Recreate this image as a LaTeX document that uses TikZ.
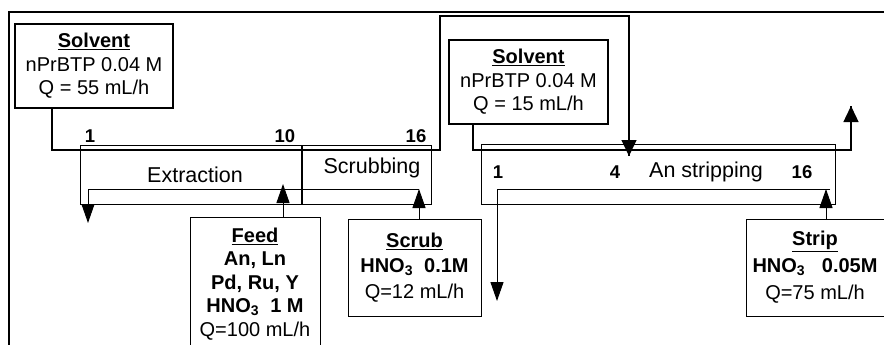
\documentclass[tikz,border=0pt]{standalone}
\usepackage{fontspec}
\setmainfont{Liberation Sans}
\usetikzlibrary{arrows.meta}
\begin{document}
\begin{tikzpicture}[x=1pt,y=-1pt,
  box/.style={draw, line width=1pt, inner sep=0pt, align=center, font=\fontsize{20}{23.5}\selectfont},
  sbox/.style={box, line width=2pt},
  flow/.style={draw, line width=1.8pt, line join=miter},
  aq/.style={draw, line width=1pt},
  tip/.style={-{Triangle[length=19pt,width=13pt]}},
  bigtip/.style={-{Triangle[length=16pt,width=15pt]}},
  num/.style={font=\fontsize{18.5}{18.5}\selectfont\bfseries, inner sep=0pt},
  lab/.style={font=\fontsize{21.5}{21.5}\selectfont, inner sep=0pt}]
\useasboundingbox (0,0) rectangle (884,345);
\draw[line width=1.5pt] (9,345) -- (9,12) -- (884,12);

% solvent boxes
\node[sbox, minimum width=158pt, minimum height=84pt] (solv1) at (94,66)
  {\underline{\textbf{Solvent}}\\nPrBTP 0.04 M\\Q = 55 mL/h};
\node[sbox, minimum width=159pt, minimum height=84pt] (solv2) at (528.5,82)
  {\underline{\textbf{Solvent}}\\nPrBTP 0.04 M\\Q = 15 mL/h};

% extractor
\node[draw, line width=0.8pt, minimum width=351pt, minimum height=59pt, inner sep=0pt] (ext) at (255.5,174.5) {};
\coordinate (divtop) at (302,145);
\coordinate (divbot) at (302,204);
\draw[line width=1.6pt] (divtop) -- (divbot);
\node[lab] (lext) at (195,175) {Extraction};
\node[lab] (lscr) at (372,168) {Scrubbing};
\node[num] (n1) at (90,136) {1};
\node[num] (n10) at (285,136) {10};
\node[num] (n16) at (416,136) {16};

% stripper
\node[draw, line width=0.8pt, minimum width=354pt, minimum height=60pt, inner sep=0pt] (strp) at (658,174) {};
\node[lab] (lstr) at (706,172) {An stripping};
\node[num] (m1) at (498,172) {1};
\node[num] (m4) at (615,172) {4};
\node[num] (m16) at (802,172) {16};

% feed box
\coordinate (fbl) at (190,345);
\coordinate (ftl) at (190,217);
\coordinate (ftr) at (320,217);
\coordinate (fbr) at (320,345);
\draw[line width=1pt] (fbl) -- (ftl) -- (ftr) -- (fbr);
\node[align=center, inner sep=0pt, font=\fontsize{20}{23.5}\selectfont] (feed) at (255,284)
  {\underline{\textbf{Feed}}\\\textbf{An, Ln}\\\textbf{Pd, Ru, Y}\\\textbf{HNO\textsubscript{3}\ \ 1 M}\\Q=100 mL/h};

% scrub and strip boxes
\node[box, minimum width=133pt, minimum height=97pt, font=\fontsize{20}{25.5}\selectfont] (scrub) at (414.5,267.5)
  {\underline{\textbf{Scrub}}\\\textbf{HNO\textsubscript{3}\ \ 0.1M}\\Q=12 mL/h};
\node[box, minimum width=138pt, minimum height=97pt, font=\fontsize{20}{27}\selectfont] (strip) at (815,267.5)
  {\underline{\textbf{Strip}}\\\textbf{HNO\textsubscript{3}\ \ \ 0.05M}\\Q=75 mL/h};

% solvent flows
\coordinate (a1) at (52,150);
\coordinate (a2) at (440,150);
\coordinate (a3) at (440,16);
\coordinate (a4) at (629,16);
\coordinate (a6) at (629,156);
\draw[flow] (solv1.south -| a1) -- (a1) -- (a2) -- (a3) -- (a4) -- (a6);
\draw[line width=1.4pt, bigtip] (629,130) -- (a6);

\coordinate (b1) at (473,150);
\coordinate (b2) at (851,150);
\coordinate (b4) at (851,106);
\draw[flow] (solv2.south -| b1) -- (b1) -- (b2) -- (b4);
\draw[line width=1.4pt, bigtip] (851,135) -- (b4);

% aqueous flows extraction
\coordinate (e1) at (419,189);
\coordinate (e2) at (88,189);
\coordinate (e3) at (88,223);
\coordinate (e4) at (283,184);
\draw[aq, tip] (e1) -- (e2) -- (e3);
\draw[aq, tip] (ftl -| e4) -- (e4);
\draw[aq, tip] (scrub.north -| e1) -- (e1);

% aqueous flows stripping
\coordinate (s1) at (830,189);
\coordinate (s2) at (497,189);
\coordinate (s3) at (497,301);
\coordinate (s4) at (826,189);
\draw[aq, tip] (s1) -- (s2) -- (s3);
\draw[aq, tip] (strip.north -| s4) -- (s4);
\end{tikzpicture}
\end{document}
